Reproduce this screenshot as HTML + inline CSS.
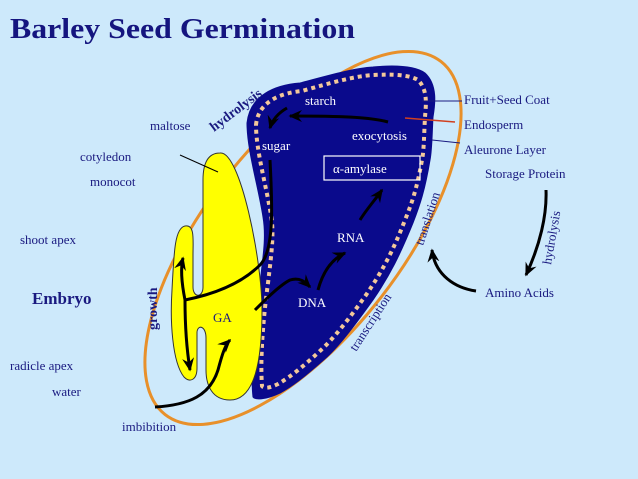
<!DOCTYPE html>
<html><head><meta charset="utf-8"><style>
html,body{margin:0;padding:0;background:#cde9fb;}
svg{display:block;}
text{font-family:"Liberation Serif",serif;fill:#1a1a80;font-size:13px;}
.w{fill:#fff;}
</style></head><body>
<svg width="638" height="479" viewBox="0 0 638 479" xmlns="http://www.w3.org/2000/svg">
<defs>
<marker id="a" viewBox="0 0 10 10" refX="8" refY="5" markerWidth="5" markerHeight="5" orient="auto"><path d="M0,1 L9,5 L0,9 L3,5 Z" fill="#000"/></marker>
</defs>
<rect width="638" height="479" fill="#cde9fb"/>
<text x="10" y="38" textLength="345" lengthAdjust="spacingAndGlyphs" style="font-size:28px;font-weight:bold;fill:#15157f">Barley Seed Germination</text>
<ellipse cx="303" cy="238" rx="224" ry="98" transform="rotate(-52 303 238)" fill="none" stroke="#e8902a" stroke-width="3"/>
<path d="M247,123 C250,95 275,85 300,83 C330,75 355,68 373,67 C395,65 415,66 425,73 C438,85 435,105 433,117 C432,135 432,150 430,160 C425,190 420,205 413,223 C400,255 390,275 373,300 C355,325 340,345 327,357 C310,372 295,385 280,393 C265,400 255,400 253,397 C250,370 255,320 260,283 C264,250 266,235 263,217 C258,185 247,150 247,123 Z" fill="#0a0a8c" stroke="#0a0a8c"/>
<path d="M256,125 C258,102 280,93 302,91 C330,83 355,76 373,75 C393,74 410,75 418,80 C428,90 426,105 425,117 C424,135 424,150 422,160 C417,188 412,203 405,220 C393,251 383,270 366,295 C349,319 334,338 321,350 C306,364 292,376 278,384 C270,388 264,389 262,386 C260,360 263,320 268,283 C272,250 274,233 271,215 C266,185 256,150 256,125 Z" fill="none" stroke="#f3c89a" stroke-width="4" stroke-dasharray="4 4"/>
<path d="M220,153 C240,150 262,260 262,310 C262,360 255,400 230,400 C212,400 206,385 206,370 L206,338 C206,326 198,324 197,332 L197,368 C197,380 190,383 184,377 C172,362 170,320 172,290 C174,250 175,228 185,226 C195,224 193,240 193,255 L193,287 C193,298 203,298 203,287 L203,180 C203,160 210,153 220,153 Z" fill="#ffff00" stroke="#333" stroke-width="1"/>
<g fill="none" stroke="#000" stroke-width="3">
<path d="M270,160 C272,200 275,250 260,265 C240,285 210,295 185,300" />
<path d="M185,300 C182,285 180,270 183,258" marker-end="url(#a)"/>
<path d="M185,300 C185,320 186,345 190,370" marker-end="url(#a)"/>
<path d="M155,407 C190,405 210,395 218,370 C222,355 225,345 230,340" marker-end="url(#a)"/>
<path d="M255,310 C265,300 280,285 290,280 C300,277 305,282 310,287" marker-end="url(#a)"/>
<path d="M318,290 C322,275 330,260 345,253" marker-end="url(#a)"/>
<path d="M360,220 C366,210 375,200 382,190" marker-end="url(#a)"/>
<path d="M388,122 C370,117 340,116 290,116" marker-end="url(#a)"/>
<path d="M287,108 C280,112 273,118 270,128" marker-end="url(#a)"/>
<path d="M546,190 C547,215 540,245 526,275" marker-end="url(#a)"/>
<path d="M476,291 C455,288 435,275 432,250" marker-end="url(#a)"/>
</g>
<line x1="422" y1="101" x2="462" y2="101" stroke="#1a1a80" stroke-width="1"/>
<line x1="405" y1="118" x2="455" y2="122" stroke="#d04020" stroke-width="1.5"/>
<line x1="432" y1="140" x2="460" y2="143" stroke="#1a1a80" stroke-width="1"/>
<line x1="180" y1="155" x2="218" y2="172" stroke="#000" stroke-width="1"/>
<rect x="324" y="156" width="96" height="24" fill="none" stroke="#fff" stroke-width="1.2"/>
<text class="w" x="333" y="173">α-amylase</text>
<text class="w" x="305" y="105">starch</text>
<text class="w" x="262" y="150">sugar</text>
<text class="w" x="352" y="140">exocytosis</text>
<text class="w" x="337" y="242">RNA</text>
<text class="w" x="298" y="307">DNA</text>
<text x="213" y="322">GA</text>
<text x="150" y="130">maltose</text>
<text x="80" y="161">cotyledon</text>
<text x="90" y="186">monocot</text>
<text x="20" y="244">shoot apex</text>
<text x="32" y="304" style="font-size:17px;font-weight:bold">Embryo</text>
<text x="10" y="370">radicle apex</text>
<text x="52" y="396">water</text>
<text x="122" y="431">imbibition</text>
<text x="464" y="104">Fruit+Seed Coat</text>
<text x="464" y="129">Endosperm</text>
<text x="464" y="154">Aleurone Layer</text>
<text x="485" y="178">Storage Protein</text>
<text x="485" y="297">Amino Acids</text>
<text transform="translate(214,132) rotate(-37)" style="font-weight:bold;font-size:14px">hydrolysis</text>
<text transform="translate(157,330) rotate(-90)" style="font-weight:bold;font-size:14px">growth</text>
<text transform="translate(356,352) rotate(-57)">transcription</text>
<text transform="translate(423,246) rotate(-72)">translation</text>
<text transform="translate(551,265) rotate(-80)">hydrolysis</text>
</svg>
</body></html>
